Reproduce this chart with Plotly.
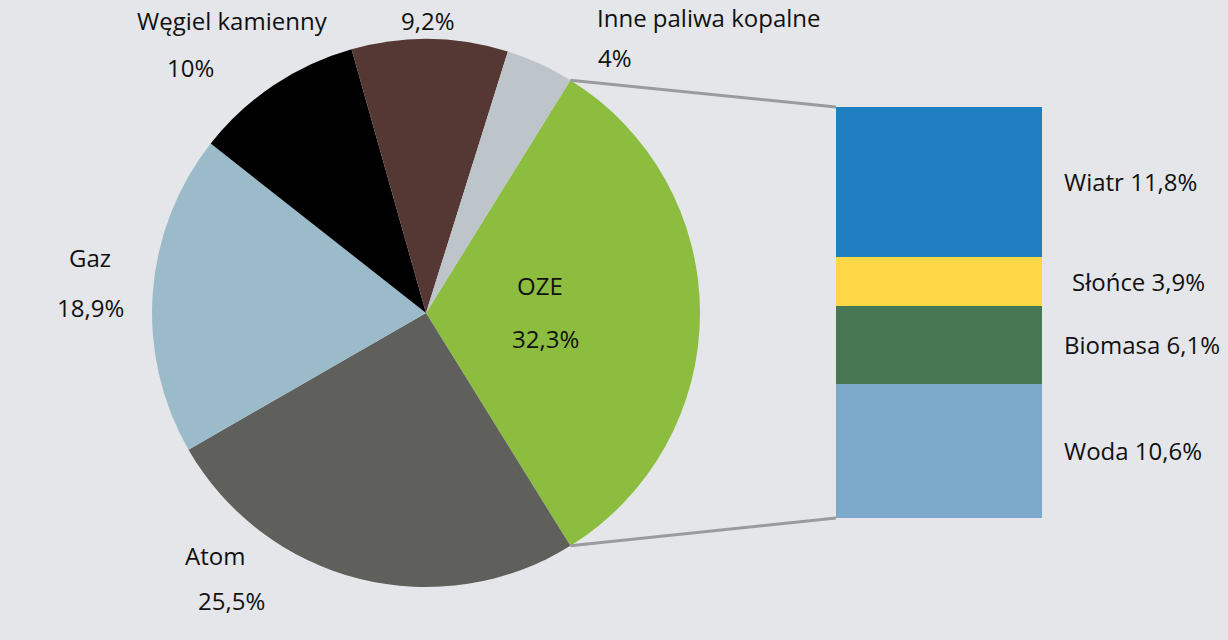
import math
import plotly.graph_objects as go

# ---- data ----
pie_labels = ["OZE", "Atom", "Gaz", "Węgiel kamienny", "Węgiel brunatny", "Inne paliwa kopalne"]
pie_values = [32.3, 25.5, 18.9, 10.0, 9.2, 4.0]
pie_text = ["32,3%", "25,5%", "18,9%", "10%", "9,2%", "4%"]
pie_colors = ["#8CBD3F", "#5F605B", "#9CBBCA", "#000000", "#553833", "#BDC5CA"]

oze_labels = ["Woda", "Biomasa", "Słońce", "Wiatr"]
oze_values = [10.6, 6.1, 3.9, 11.8]
oze_text = ["10,6%", "6,1%", "3,9%", "11,8%"]
oze_colors = ["#7CA8CA", "#487853", "#FFD645", "#1F7FC1"]

# ---- layout geometry ----
W, H = 1228, 640
BG = "#E4E6E9"
FONT = "Open Sans"
TXT = "#111111"
FS = 24

pie_cx, pie_cy, pie_r = 426, 313, 274  # pixels
pie_domain_x = [(pie_cx - pie_r) / W, (pie_cx + pie_r) / W]
pie_domain_y = [1 - (pie_cy + pie_r) / H, 1 - (pie_cy - pie_r) / H]
bar_domain_x = [836 / W, 1042 / W]
bar_domain_y = [1 - 518 / H, 1 - 107 / H]

total = sum(pie_values)
oze_span = pie_values[0] / total * 360
rotation = 90 - oze_span / 2  # centre OZE slice at 3 o'clock

fig = go.Figure()
fig.add_trace(go.Pie(
    labels=pie_labels, values=pie_values, sort=False, direction="clockwise",
    rotation=rotation, marker=dict(colors=pie_colors, line=dict(width=0)),
    textinfo="none", hoverinfo="label+percent", showlegend=False,
    domain=dict(x=pie_domain_x, y=pie_domain_y),
))

for lab, val, col in zip(oze_labels, oze_values, oze_colors):
    fig.add_trace(go.Bar(
        x=["OZE"], y=[val], name=lab, marker=dict(color=col, line=dict(width=0)),
        width=1, showlegend=False,
    ))

# connector lines from OZE slice edges to bar corners
def pie_point(angle_deg):
    a = math.radians(angle_deg)
    px = pie_cx + pie_r * math.sin(a)
    py = pie_cy - pie_r * math.cos(a)
    return px / W, 1 - py / H

p_top = pie_point(rotation)
p_bot = pie_point(rotation + oze_span)
for (px, py), by in [(p_top, bar_domain_y[1]), (p_bot, bar_domain_y[0])]:
    fig.add_shape(type="line", xref="paper", yref="paper", x0=px, y0=py,
                  x1=bar_domain_x[0], y1=by, line=dict(color="#9A9B9F", width=3))

annotations = []
def ann(text, x, y, xanchor="center", size=FS):
    annotations.append(dict(text=text, x=x / W, y=1 - y / H, xref="paper", yref="paper",
                            xanchor=xanchor, yanchor="middle", showarrow=False,
                            font=dict(family=FONT, size=size, color=TXT)))

ann(pie_labels[0], 540, 285)
ann(pie_text[0], 545, 338)
ann(pie_labels[1], 183, 555, "left")
ann(pie_text[1], 196, 600, "left")
ann(pie_labels[2], 90, 257)
ann(pie_text[2], 90, 307)
ann(pie_labels[3], 232, 20)
ann(pie_text[3], 190, 68)
ann(pie_text[4], 428, 20)
ann(pie_labels[5], 595, 18, "left")
ann(pie_text[5], 596, 58, "left")

# bar segment labels at segment midpoints
cum = 0
for lab, val, txt in zip(oze_labels, oze_values, oze_text):
    mid = cum + val / 2
    cum += val
    x_left = 1070 if lab == "Słońce" else 1062
    annotations.append(dict(text=f"{lab} {txt}", x=x_left / W, y=mid, xref="paper", yref="y",
                            xanchor="left", yanchor="middle", showarrow=False,
                            font=dict(family=FONT, size=FS, color=TXT)))

fig.update_layout(
    width=W, height=H, margin=dict(l=0, r=0, t=0, b=0),
    paper_bgcolor=BG, plot_bgcolor=BG, barmode="stack", bargap=0,
    xaxis=dict(domain=bar_domain_x, visible=False, range=[-0.5, 0.5]),
    yaxis=dict(domain=bar_domain_y, visible=False, range=[0, sum(oze_values)]),
    annotations=annotations,
)

fig.write_html("out.html")
